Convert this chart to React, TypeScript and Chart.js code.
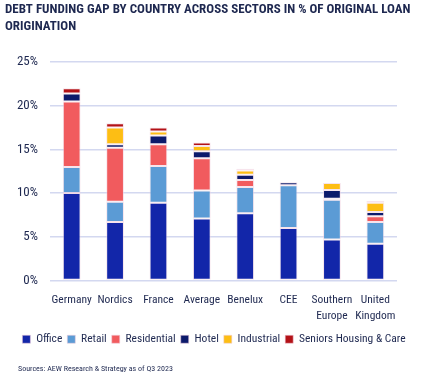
import React, { useEffect, useRef } from "react";
import { Chart, registerables } from "chart.js";

Chart.register(...registerables);

const categories: (string | string[])[] = [
  "Germany",
  "Nordics",
  "France",
  "Average",
  "Benelux",
  "CEE",
  ["Southern", "Europe"],
  ["United", "Kingdom"],
];

const office = [10.0, 6.7, 8.9, 7.1, 7.7, 6.0, 4.7, 4.2];
const retail = [3.0, 2.3, 4.2, 3.2, 3.0, 4.9, 4.55, 2.5];
const residential = [7.5, 6.2, 2.5, 3.7, 0.8, 0, 0.1, 0.65];
const hotel = [0.9, 0.4, 1.0, 0.8, 0.6, 0.35, 1.0, 0.5];
const industrial = [0, 1.9, 0.45, 0.6, 0.5, 0, 0.8, 1.05];
const seniors = [0.6, 0.5, 0.45, 0.4, 0.2, 0, 0, 0.2];

const seriesNames = ["Office", "Retail", "Residential", "Hotel", "Industrial", "Seniors Housing & Care"];
const seriesColors = ["#1226A9", "#5B9BD5", "#F15B5E", "#0C1A6B", "#FDBE14", "#B31217"];

const titleLines = ["DEBT FUNDING GAP BY COUNTRY ACROSS SECTORS IN % OF ORIGINAL LOAN", "ORIGINATION"];
const sourceText = "Sources: AEW Research & Strategy as of Q3 2023";

const textColor = "#1E2850";
const fontFamily = "'Roboto Condensed', Roboto, sans-serif";

export default function App() {
  const ref = useRef<HTMLCanvasElement | null>(null);

  useEffect(() => {
    if (!ref.current) return;
    const values = [office, retail, residential, hotel, industrial, seniors];
    const chart = new Chart(ref.current, {
      type: "bar",
      data: {
        labels: categories,
        datasets: values.map((d, i) => ({
          label: seriesNames[i],
          data: d,
          backgroundColor: seriesColors[i],
          borderColor: "rgba(240,205,220,0.55)",
          borderWidth: 1,
          borderSkipped: false,
          barPercentage: 0.41,
          categoryPercentage: 1,
        })),
      },
      options: {
        animation: false,
        responsive: false,
        maintainAspectRatio: false,
        layout: { padding: { left: 5, right: 0, top: 0, bottom: 28 } },
        plugins: {
          title: {
            display: true,
            text: titleLines,
            align: "start",
            color: textColor,
            font: { family: fontFamily, size: 13, weight: "bold", lineHeight: 1.31 },
            padding: { top: 1, bottom: 27 },
          },
          legend: {
            position: "bottom",
            labels: {
              color: textColor,
              font: { family: fontFamily, size: 11.5 },
              boxWidth: 8,
              boxHeight: 8,
              padding: 5,
            },
          },
          tooltip: { enabled: false },
        },
        scales: {
          x: {
            stacked: true,
            grid: { display: false },
            border: { display: false },
            afterFit: (s: any) => {
              s.height = 48;
            },
            ticks: {
              color: textColor,
              font: { family: fontFamily, size: 11.5, lineHeight: 1.38 },
              maxRotation: 0,
              autoSkip: false,
              padding: 4,
            },
          },
          y: {
            stacked: true,
            min: 0,
            max: 25,
            afterFit: (s: any) => {
              s.width = 45;
            },
            ticks: {
              stepSize: 5,
              color: textColor,
              font: { family: fontFamily, size: 13 },
              padding: 12,
              callback: (v: any) => v + "%",
            },
            grid: { color: "#D3D8F0", lineWidth: 1.5, drawTicks: false },
            border: { display: false },
          },
          yRight: {
            position: "right",
            display: true,
            grid: { display: false },
            border: { display: false },
            ticks: { display: false },
            afterFit: (s: any) => {
              s.width = 26;
            },
          },
        },
      },
    });
    return () => chart.destroy();
  }, []);

  return (
    <div style={{ position: "fixed", left: 0, top: 0, width: 423, height: 383, background: "#fff" }}>
      <canvas ref={ref} width={423} height={383} style={{ width: 423, height: 383, display: "block" }} />
      <div
        style={{
          position: "absolute",
          left: 18,
          top: 363,
          fontFamily: fontFamily,
          fontSize: 8,
          lineHeight: "12px",
          color: textColor,
          whiteSpace: "nowrap",
        }}
      >
        {sourceText}
      </div>
    </div>
  );
}
